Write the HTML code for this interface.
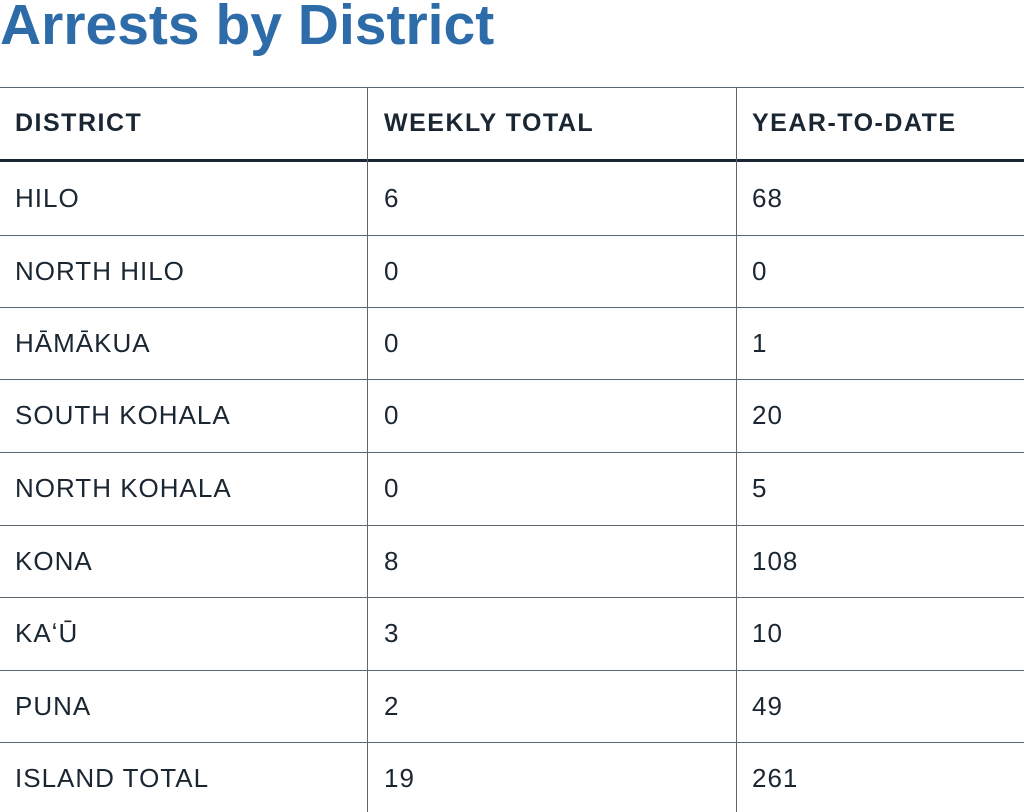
<!DOCTYPE html>
<html><head><style>
body{margin:0;width:1024px;height:812px;background:#fff;overflow:hidden;position:relative;font-family:"Liberation Sans",sans-serif;}
.t{position:absolute;left:0;top:-8px;font-size:57px;font-weight:bold;color:#2d6ca8;letter-spacing:0px;white-space:nowrap}
.h{position:absolute;height:1px;background:#5a6670;left:0;width:1024px}
.v{position:absolute;width:1px;background:#5a6670;top:88px;height:724px}
.c{position:absolute;font-size:26px;color:#1a2632;white-space:nowrap;line-height:30px;letter-spacing:1px}
.b{font-weight:bold;font-size:25px;letter-spacing:1.5px}
</style></head><body>
<div class="t">Arrests by District</div>
<div class="h" style="top:87px"></div>
<div class="h" style="top:159px;height:3px;background:#1a2632"></div>
<div class="h" style="top:235px"></div>
<div class="h" style="top:307px"></div>
<div class="h" style="top:379px"></div>
<div class="h" style="top:452px"></div>
<div class="h" style="top:525px"></div>
<div class="h" style="top:597px"></div>
<div class="h" style="top:670px"></div>
<div class="h" style="top:742px"></div>
<div class="v" style="left:367px"></div>
<div class="v" style="left:736px"></div>

<div class="c b" style="left:15px;top:108px">DISTRICT</div>
<div class="c b" style="left:384px;top:108px">WEEKLY TOTAL</div>
<div class="c b" style="left:752px;top:108px">YEAR-TO-DATE</div>

<div class="c" style="left:15px;top:183px">HILO</div><div class="c" style="left:384px;top:183px">6</div><div class="c" style="left:752px;top:183px">68</div>
<div class="c" style="left:15px;top:256px">NORTH HILO</div><div class="c" style="left:384px;top:256px">0</div><div class="c" style="left:752px;top:256px">0</div>
<div class="c" style="left:15px;top:328px">HĀMĀKUA</div><div class="c" style="left:384px;top:328px">0</div><div class="c" style="left:752px;top:328px">1</div>
<div class="c" style="left:15px;top:400px">SOUTH KOHALA</div><div class="c" style="left:384px;top:400px">0</div><div class="c" style="left:752px;top:400px">20</div>
<div class="c" style="left:15px;top:473px">NORTH KOHALA</div><div class="c" style="left:384px;top:473px">0</div><div class="c" style="left:752px;top:473px">5</div>
<div class="c" style="left:15px;top:546px">KONA</div><div class="c" style="left:384px;top:546px">8</div><div class="c" style="left:752px;top:546px">108</div>
<div class="c" style="left:15px;top:618px">KAʻŪ</div><div class="c" style="left:384px;top:618px">3</div><div class="c" style="left:752px;top:618px">10</div>
<div class="c" style="left:15px;top:691px">PUNA</div><div class="c" style="left:384px;top:691px">2</div><div class="c" style="left:752px;top:691px">49</div>
<div class="c" style="left:15px;top:763px">ISLAND TOTAL</div><div class="c" style="left:384px;top:763px">19</div><div class="c" style="left:752px;top:763px">261</div>
</body></html>
